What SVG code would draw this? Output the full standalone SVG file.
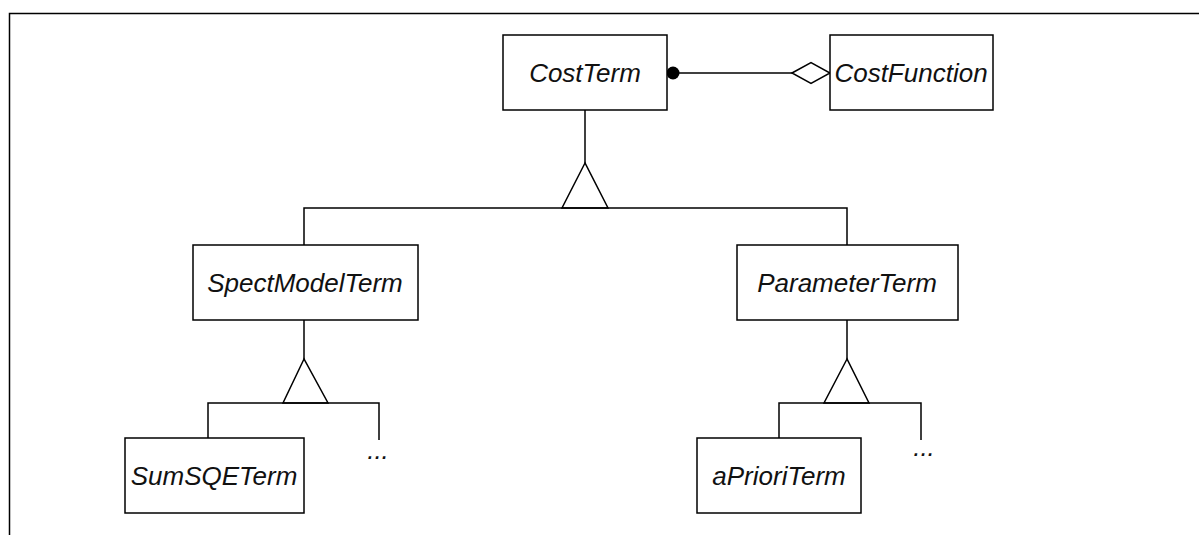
<svg xmlns="http://www.w3.org/2000/svg" width="1200" height="535" viewBox="0 0 1200 535">
<style>
.box{fill:#fff;stroke:#000;stroke-width:1.5}
.lbl{font-family:"Liberation Sans",Arial,sans-serif;font-style:italic;font-size:26px;fill:#111;text-anchor:middle}
.ln{fill:none;stroke:#000;stroke-width:1.5}
.tri{fill:#fff;stroke:#000;stroke-width:1.5}
</style>
<rect width="1200" height="535" fill="#fff"/>
<g id="frame"><path class="ln" d="M9.5,535 V13.5 H1199" stroke-width="2"/></g>
<g id="connectors">
<line class="ln" x1="667" y1="73" x2="792" y2="73"/>
<polygon class="tri" points="792,73 811,62.5 830,73 811,83.5"/>
<circle cx="673" cy="73" r="6.5" fill="#000"/>
<line class="ln" x1="585" y1="110" x2="585" y2="163"/>
<polygon class="tri" points="585,163 562,208 608,208"/>
<path class="ln" d="M304,245 V208 H847 V245"/>
<line class="ln" x1="304" y1="320" x2="304" y2="359"/>
<polygon class="tri" points="304,359 283,403 328,403"/>
<path class="ln" d="M208,438 V403 H379 V440"/>
<line class="ln" x1="847" y1="320" x2="847" y2="359"/>
<polygon class="tri" points="847,359 824,403 869,403"/>
<path class="ln" d="M779,438 V403 H921 V440"/>
</g>
<g id="CostTerm"><rect class="box" x="503" y="35" width="164" height="75"/><text class="lbl" x="585" y="81.5">CostTerm</text></g>
<g id="CostFunction"><rect class="box" x="830" y="35" width="163" height="75"/><text class="lbl" x="911" y="81.5">CostFunction</text></g>
<g id="SpectModelTerm"><rect class="box" x="193" y="245" width="225" height="75"/><text class="lbl" x="305" y="291.5">SpectModelTerm</text></g>
<g id="ParameterTerm"><rect class="box" x="737" y="245" width="221" height="75"/><text class="lbl" x="847" y="291.5">ParameterTerm</text></g>
<g id="SumSQETerm"><rect class="box" x="125" y="438" width="179" height="75"/><text class="lbl" x="214" y="484.5">SumSQETerm</text></g>
<g id="aPrioriTerm"><rect class="box" x="697" y="438" width="164" height="75"/><text class="lbl" x="779" y="484.5">aPrioriTerm</text></g>
<g id="more1"><text class="lbl" x="378" y="459">...</text></g>
<g id="more2"><text class="lbl" x="924" y="456">...</text></g>
</svg>
